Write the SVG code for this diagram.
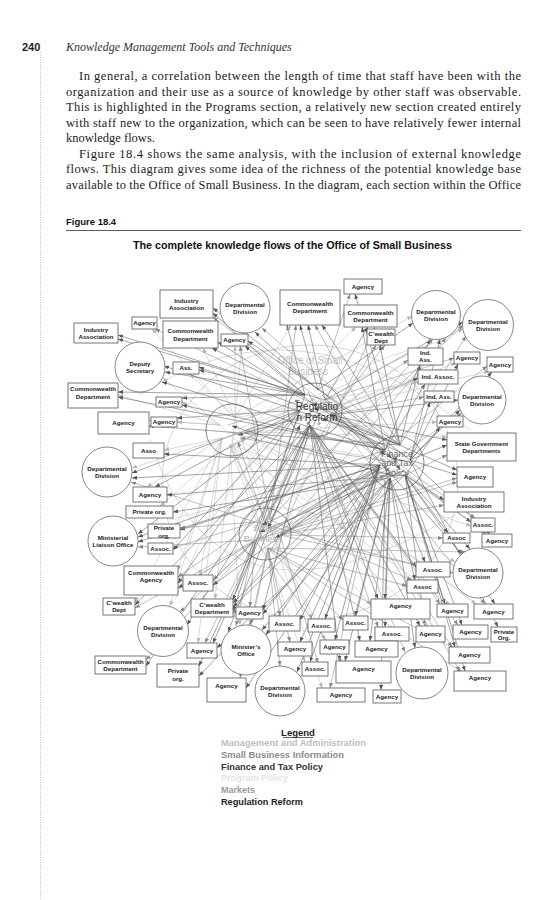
<svg xmlns="http://www.w3.org/2000/svg" width="552" height="900" viewBox="0 0 552 900">
<defs>
<marker id="ad" markerUnits="userSpaceOnUse" markerWidth="5" markerHeight="4" refX="5" refY="2" orient="auto"><path d="M0,0 L5,2 L0,4 z" fill="#555"/></marker>
<marker id="am" markerUnits="userSpaceOnUse" markerWidth="5" markerHeight="4" refX="5" refY="2" orient="auto"><path d="M0,0 L5,2 L0,4 z" fill="#888"/></marker>
<marker id="al" markerUnits="userSpaceOnUse" markerWidth="5" markerHeight="4" refX="5" refY="2" orient="auto"><path d="M0,0 L5,2 L0,4 z" fill="#b5b5b5"/></marker>
</defs>
<style>
.body{font-family:"Liberation Serif",serif;font-size:12.5px;fill:#222}
.hdr{font-family:"Liberation Serif",serif;font-style:italic;font-size:12px;fill:#333}
.sans{font-family:"Liberation Sans",Arial,sans-serif;font-weight:bold}
.nt{font-family:"Liberation Sans",Arial,sans-serif;font-weight:bold;font-size:6.2px;fill:#222;text-anchor:middle}
.bx{fill:#fff;stroke:#555;stroke-width:0.8}
.ci{fill:#fff;stroke:#555;stroke-width:0.7}
.hub{fill:none;stroke:#555;stroke-width:0.7}
.d{stroke:#5a5a5a;stroke-width:0.55;marker-end:url(#ad)}
.m{stroke:#8a8a8a;stroke-width:0.55;marker-end:url(#am)}
.l{stroke:#bcbcbc;stroke-width:0.55;marker-end:url(#al)}
.ht{font-family:"Liberation Sans",Arial,sans-serif;text-anchor:middle}
.lg{font-family:"Liberation Sans",Arial,sans-serif;font-weight:bold;font-size:9.5px}
</style>
<rect width="552" height="900" fill="#fff"/>
<line x1="40.5" y1="52" x2="40.5" y2="900" stroke="#aaa" stroke-width="0.8" stroke-dasharray="1,1.5"/>
<text class="sans" x="22" y="51" font-size="11" fill="#222">240</text>
<text class="hdr" x="66" y="51">Knowledge Management Tools and Techniques</text>
<text class="body" x="79" y="80" textLength="442" lengthAdjust="spacing">In general, a correlation between the length of time that staff have been with the</text>
<text class="body" x="66" y="95.5" textLength="455" lengthAdjust="spacing">organization and their use as a source of knowledge by other staff was observable.</text>
<text class="body" x="66" y="111" textLength="455" lengthAdjust="spacing">This is highlighted in the Programs section, a relatively new section created entirely</text>
<text class="body" x="66" y="126.5" textLength="455" lengthAdjust="spacing">with staff new to the organization, which can be seen to have relatively fewer internal</text>
<text class="body" x="66" y="142">knowledge flows.</text>
<text class="body" x="79" y="157.5" textLength="442" lengthAdjust="spacing">Figure 18.4 shows the same analysis, with the inclusion of external knowledge</text>
<text class="body" x="66" y="173" textLength="455" lengthAdjust="spacing">flows. This diagram gives some idea of the richness of the potential knowledge base</text>
<text class="body" x="66" y="188.5" textLength="455" lengthAdjust="spacing">available to the Office of Small Business. In the diagram, each section within the Office</text>
<text class="sans" x="66" y="225" font-size="9.5" fill="#111">Figure 18.4</text>
<line x1="66" y1="230.5" x2="521" y2="230.5" stroke="#333" stroke-width="0.8"/>
<text class="sans" x="133" y="249" font-size="10.5" fill="#111" textLength="319" lengthAdjust="spacingAndGlyphs">The complete knowledge flows of the Office of Small Business</text>

<g id="office-boundary">
<ellipse cx="310" cy="482" rx="148" ry="137" fill="none" stroke="#cfcfcf" stroke-width="0.9"/>
<text class="ht" x="310" y="364" font-size="10" fill="#c4c4c4">Office of Small</text>
<text class="ht" x="308" y="375" font-size="10" fill="#c4c4c4">Business</text>
</g>

<g id="connectors" fill="none">
<path d="M150,440 Q220,655 455,515" stroke="#c8c8c8" stroke-width="0.7"/>
<path d="M140,395 Q300,290 470,430" stroke="#c8c8c8" stroke-width="0.7"/>
<path d="M170,520 Q320,470 470,600" stroke="#d0d0d0" stroke-width="0.7"/>
<path d="M175,600 Q260,380 430,345" stroke="#d0d0d0" stroke-width="0.7"/>
<line class="d" x1="305" y1="395" x2="213" y2="313"/><line class="m" x1="385" y1="450" x2="213" y2="317"/>
<line class="d" x1="318" y1="390" x2="255" y2="332"/><line class="m" x1="400" y1="445" x2="262" y2="328"/><line class="l" x1="235" y1="418" x2="243" y2="333"/>
<line class="d" x1="305" y1="395" x2="287" y2="325"/><line class="d" x1="318" y1="390" x2="300" y2="325"/><line class="m" x1="385" y1="450" x2="315" y2="325"/><line class="d" x1="400" y1="445" x2="322" y2="325"/><line class="l" x1="235" y1="418" x2="291" y2="325"/><line class="m" x1="270" y1="520" x2="296" y2="325"/><line class="d" x1="325" y1="400" x2="308" y2="325"/>
<line class="d" x1="400" y1="445" x2="355" y2="294"/><line class="m" x1="318" y1="390" x2="350" y2="294"/>
<line class="d" x1="385" y1="450" x2="362" y2="327"/><line class="d" x1="325" y1="400" x2="368" y2="327"/><line class="m" x1="280" y1="535" x2="375" y2="327"/><line class="l" x1="245" y1="432" x2="356" y2="327"/>
<line class="d" x1="400" y1="445" x2="380" y2="345"/><line class="m" x1="330" y1="415" x2="385" y2="345"/><line class="m" x1="270" y1="520" x2="376" y2="345"/>
<line class="d" x1="385" y1="450" x2="430" y2="339"/><line class="d" x1="410" y1="460" x2="440" y2="339"/><line class="d" x1="318" y1="390" x2="413" y2="323"/><line class="l" x1="235" y1="418" x2="412" y2="316"/><line class="m" x1="280" y1="535" x2="446" y2="338"/>
<line class="d" x1="325" y1="400" x2="463" y2="322"/><line class="m" x1="400" y1="445" x2="466" y2="336"/><line class="l" x1="245" y1="432" x2="463" y2="329"/>
<line class="d" x1="400" y1="445" x2="420" y2="365"/><line class="m" x1="330" y1="415" x2="408" y2="360"/>
<line class="d" x1="410" y1="460" x2="458" y2="364"/><line class="m" x1="325" y1="400" x2="454" y2="358"/>
<line class="d" x1="410" y1="460" x2="492" y2="372"/><line class="m" x1="280" y1="535" x2="487" y2="366"/>
<line class="d" x1="385" y1="450" x2="425" y2="384"/><line class="d" x1="330" y1="415" x2="418" y2="378"/><line class="l" x1="245" y1="432" x2="418" y2="382"/>
<line class="d" x1="410" y1="460" x2="430" y2="402"/><line class="m" x1="330" y1="415" x2="424" y2="397"/>
<line class="d" x1="410" y1="460" x2="460" y2="410"/><line class="d" x1="330" y1="415" x2="458" y2="400"/><line class="m" x1="280" y1="535" x2="462" y2="413"/>
<line class="d" x1="405" y1="475" x2="440" y2="427"/><line class="l" x1="245" y1="432" x2="437" y2="422"/>
<line class="d" x1="410" y1="460" x2="447" y2="445"/><line class="d" x1="330" y1="415" x2="447" y2="440"/><line class="m" x1="280" y1="535" x2="447" y2="455"/><line class="l" x1="245" y1="432" x2="447" y2="437"/>
<line class="d" x1="410" y1="460" x2="457" y2="475"/><line class="m" x1="280" y1="535" x2="457" y2="482"/><line class="d" x1="330" y1="415" x2="457" y2="470"/>
<line class="d" x1="405" y1="475" x2="444" y2="500"/><line class="m" x1="280" y1="535" x2="444" y2="505"/>
<line class="d" x1="405" y1="475" x2="471" y2="522"/><line class="m" x1="330" y1="415" x2="475" y2="518"/>
<line class="d" x1="405" y1="475" x2="448" y2="533"/><line class="m" x1="280" y1="535" x2="443" y2="538"/>
<line class="d" x1="410" y1="460" x2="490" y2="534"/><line class="m" x1="330" y1="415" x2="486" y2="534"/>
<line class="d" x1="405" y1="475" x2="470" y2="549"/><line class="d" x1="325" y1="400" x2="462" y2="554"/><line class="l" x1="245" y1="432" x2="455" y2="562"/><line class="m" x1="280" y1="535" x2="453" y2="573"/>
<line class="d" x1="390" y1="478" x2="425" y2="562"/><line class="d" x1="310" y1="425" x2="416" y2="567"/>
<line class="d" x1="390" y1="478" x2="415" y2="580"/><line class="m" x1="268" y1="548" x2="407" y2="586"/>
<line class="d" x1="390" y1="478" x2="385" y2="599"/><line class="d" x1="310" y1="425" x2="378" y2="599"/><line class="l" x1="230" y1="445" x2="371" y2="605"/>
<line class="d" x1="405" y1="475" x2="445" y2="604"/><line class="m" x1="310" y1="425" x2="440" y2="604"/>
<line class="d" x1="405" y1="475" x2="495" y2="604"/><line class="m" x1="330" y1="415" x2="485" y2="604"/>
<line class="d" x1="380" y1="465" x2="325" y2="619"/><line class="l" x1="230" y1="445" x2="312" y2="619"/>
<line class="d" x1="390" y1="478" x2="355" y2="616"/><line class="m" x1="268" y1="548" x2="343" y2="620"/>
<line class="d" x1="390" y1="478" x2="385" y2="627"/><line class="m" x1="310" y1="425" x2="378" y2="627"/>
<line class="d" x1="405" y1="475" x2="425" y2="626"/><line class="d" x1="310" y1="425" x2="420" y2="626"/>
<line class="d" x1="405" y1="475" x2="462" y2="625"/><line class="m" x1="310" y1="425" x2="458" y2="625"/>
<line class="d" x1="410" y1="460" x2="498" y2="627"/>
<line class="d" x1="380" y1="465" x2="335" y2="640"/><line class="l" x1="230" y1="445" x2="325" y2="640"/>
<line class="d" x1="390" y1="478" x2="370" y2="641"/><line class="d" x1="310" y1="425" x2="360" y2="641"/>
<line class="d" x1="405" y1="475" x2="455" y2="647"/><line class="m" x1="310" y1="425" x2="452" y2="647"/>
<line class="d" x1="380" y1="465" x2="310" y2="662"/><line class="l" x1="230" y1="445" x2="305" y2="662"/>
<line class="d" x1="390" y1="478" x2="345" y2="661"/><line class="d" x1="310" y1="425" x2="340" y2="661"/>
<line class="d" x1="390" y1="478" x2="415" y2="648"/><line class="m" x1="310" y1="425" x2="405" y2="652"/>
<line class="d" x1="405" y1="475" x2="465" y2="671"/><line class="m" x1="310" y1="425" x2="460" y2="671"/>
<line class="m" x1="380" y1="465" x2="330" y2="688"/>
<line class="d" x1="385" y1="480" x2="381" y2="690"/>
<line class="m" x1="268" y1="548" x2="280" y2="666"/><line class="d" x1="380" y1="465" x2="297" y2="672"/>
<line class="d" x1="390" y1="478" x2="246" y2="688"/><line class="m" x1="268" y1="548" x2="240" y2="678"/>
<line class="d" x1="310" y1="425" x2="199" y2="666"/>
<line class="m" x1="255" y1="540" x2="236" y2="626"/><line class="m" x1="268" y1="548" x2="250" y2="625"/><line class="d" x1="310" y1="425" x2="228" y2="632"/><line class="l" x1="230" y1="445" x2="240" y2="625"/><line class="d" x1="380" y1="465" x2="266" y2="635"/><line class="d" x1="390" y1="478" x2="262" y2="630"/>
<line class="m" x1="268" y1="548" x2="290" y2="642"/><line class="d" x1="380" y1="465" x2="300" y2="642"/>
<line class="m" x1="255" y1="540" x2="205" y2="643"/><line class="l" x1="222" y1="438" x2="198" y2="643"/><line class="d" x1="310" y1="425" x2="213" y2="643"/>
<line class="m" x1="255" y1="540" x2="146" y2="660"/>
<line class="m" x1="255" y1="540" x2="180" y2="612"/><line class="l" x1="222" y1="438" x2="170" y2="606"/>
<line class="m" x1="268" y1="548" x2="280" y2="616"/><line class="d" x1="380" y1="465" x2="300" y2="620"/>
<line class="m" x1="255" y1="540" x2="250" y2="607"/><line class="d" x1="310" y1="425" x2="263" y2="610"/><line class="d" x1="380" y1="465" x2="263" y2="614"/>
<line class="d" x1="385" y1="450" x2="233" y2="603"/><line class="d" x1="380" y1="465" x2="233" y2="607"/><line class="d" x1="305" y1="395" x2="233" y2="611"/><line class="d" x1="300" y1="410" x2="233" y2="600"/><line class="m" x1="280" y1="535" x2="233" y2="614"/><line class="l" x1="235" y1="418" x2="215" y2="599"/>
<line class="l" x1="222" y1="438" x2="135" y2="602"/><line class="m" x1="255" y1="540" x2="135" y2="608"/>
<line class="m" x1="255" y1="540" x2="213" y2="580"/><line class="l" x1="222" y1="438" x2="200" y2="575"/>
<line class="l" x1="222" y1="438" x2="178" y2="570"/><line class="m" x1="255" y1="522" x2="178" y2="577"/><line class="d" x1="300" y1="410" x2="178" y2="583"/><line class="d" x1="380" y1="465" x2="178" y2="588"/>
<line class="m" x1="255" y1="522" x2="173" y2="548"/>
<line class="d" x1="380" y1="465" x2="180" y2="530"/><line class="m" x1="255" y1="522" x2="180" y2="528"/>
<line class="d" x1="385" y1="450" x2="138" y2="537"/><line class="d" x1="380" y1="465" x2="138" y2="542"/><line class="d" x1="300" y1="410" x2="138" y2="534"/><line class="m" x1="255" y1="540" x2="138" y2="547"/>
<line class="l" x1="230" y1="445" x2="160" y2="506"/>
<line class="l" x1="222" y1="438" x2="147" y2="487"/><line class="d" x1="300" y1="410" x2="155" y2="487"/>
<line class="l" x1="222" y1="438" x2="132" y2="468"/><line class="d" x1="300" y1="410" x2="132" y2="473"/><line class="d" x1="380" y1="465" x2="132" y2="478"/><line class="m" x1="255" y1="522" x2="131" y2="482"/>
<line class="l" x1="222" y1="438" x2="164" y2="450"/>
<line class="l" x1="220" y1="425" x2="149" y2="420"/>
<line class="l" x1="220" y1="425" x2="177" y2="422"/><line class="d" x1="300" y1="410" x2="177" y2="418"/>
<line class="l" x1="220" y1="425" x2="182" y2="402"/><line class="d" x1="305" y1="395" x2="182" y2="398"/>
<line class="l" x1="220" y1="425" x2="118" y2="395"/><line class="d" x1="305" y1="395" x2="118" y2="392"/>
<line class="l" x1="220" y1="425" x2="163" y2="378"/><line class="d" x1="305" y1="395" x2="165" y2="372"/><line class="d" x1="385" y1="450" x2="162" y2="382"/>
<line class="d" x1="305" y1="395" x2="199" y2="370"/><line class="l" x1="235" y1="418" x2="190" y2="374"/>
<line class="d" x1="305" y1="395" x2="118" y2="335"/>
<line class="l" x1="235" y1="418" x2="152" y2="329"/>
<line class="l" x1="235" y1="418" x2="203" y2="348"/><line class="d" x1="305" y1="395" x2="212" y2="348"/>
<line class="l" x1="235" y1="418" x2="235" y2="346"/><line class="d" x1="305" y1="395" x2="245" y2="346"/><line class="m" x1="270" y1="520" x2="240" y2="346"/>
<line class="m" x1="255" y1="522" x2="463" y2="325"/><line class="m" x1="270" y1="520" x2="433" y2="339"/><line class="l" x1="230" y1="445" x2="456" y2="363"/><line class="l" x1="222" y1="438" x2="489" y2="371"/>
<line class="m" x1="255" y1="540" x2="457" y2="478"/><line class="l" x1="230" y1="445" x2="471" y2="526"/><line class="m" x1="268" y1="548" x2="466" y2="552"/><line class="l" x1="245" y1="432" x2="476" y2="604"/>
<line class="d" x1="385" y1="450" x2="118" y2="397"/><line class="d" x1="400" y1="445" x2="149" y2="426"/><line class="d" x1="380" y1="465" x2="164" y2="454"/><line class="d" x1="405" y1="475" x2="167" y2="495"/><line class="d" x1="390" y1="478" x2="173" y2="512"/>
<line class="d" x1="385" y1="450" x2="182" y2="405"/><line class="d" x1="400" y1="445" x2="199" y2="367"/><line class="d" x1="400" y1="445" x2="164" y2="366"/><line class="d" x1="410" y1="460" x2="213" y2="308"/><line class="d" x1="325" y1="400" x2="118" y2="339"/>
<line class="m" x1="400" y1="445" x2="155" y2="329"/><line class="d" x1="385" y1="450" x2="218" y2="342"/><line class="d" x1="400" y1="445" x2="248" y2="341"/>
<line class="d" x1="310" y1="425" x2="135" y2="605"/><line class="d" x1="310" y1="425" x2="146" y2="666"/><line class="d" x1="390" y1="478" x2="199" y2="676"/><line class="d" x1="380" y1="465" x2="213" y2="585"/><line class="d" x1="300" y1="410" x2="173" y2="550"/><line class="d" x1="310" y1="425" x2="187" y2="625"/><line class="d" x1="405" y1="475" x2="217" y2="648"/>
<line class="m" x1="280" y1="535" x2="318" y2="663"/><line class="l" x1="235" y1="418" x2="322" y2="688"/><line class="m" x1="270" y1="520" x2="412" y2="580"/><line class="l" x1="220" y1="425" x2="428" y2="626"/><line class="m" x1="255" y1="522" x2="416" y2="565"/><line class="l" x1="235" y1="418" x2="438" y2="378"/>
<line class="m" x1="268" y1="548" x2="455" y2="649"/><line class="m" x1="268" y1="548" x2="462" y2="672"/><line class="l" x1="230" y1="445" x2="450" y2="605"/><line class="m" x1="255" y1="540" x2="342" y2="662"/>
<line class="d" x1="320" y1="405" x2="392" y2="458"/><line class="d" x1="400" y1="452" x2="322" y2="418"/><line class="m" x1="312" y1="398" x2="388" y2="470"/>
<line class="l" x1="240" y1="428" x2="305" y2="405"/><line class="d" x1="310" y1="415" x2="238" y2="435"/><line class="m" x1="228" y1="425" x2="300" y2="400"/>
<line class="m" x1="262" y1="528" x2="310" y2="420"/><line class="d" x1="318" y1="415" x2="268" y2="528"/><line class="d" x1="255" y1="530" x2="300" y2="425"/>
<line class="m" x1="270" y1="530" x2="390" y2="468"/><line class="d" x1="395" y1="470" x2="275" y2="538"/><line class="m" x1="260" y1="540" x2="385" y2="475"/><line class="d" x1="400" y1="460" x2="262" y2="525"/>
<line class="l" x1="235" y1="432" x2="385" y2="460"/><line class="m" x1="392" y1="462" x2="240" y2="438"/>
<line class="l" x1="232" y1="440" x2="260" y2="525"/><line class="m" x1="266" y1="526" x2="238" y2="442"/>
<line class="l" x1="350" y1="528" x2="318" y2="420"/><line class="l" x1="395" y1="470" x2="352" y2="525"/><line class="l" x1="262" y1="532" x2="345" y2="528"/><line class="l" x1="348" y1="530" x2="240" y2="438"/>
<line class="d" x1="308" y1="392" x2="318" y2="412"/><line class="d" x1="330" y1="402" x2="312" y2="405"/><line class="d" x1="388" y1="448" x2="400" y2="470"/><line class="d" x1="410" y1="462" x2="392" y2="458"/>
<line class="d" x1="322" y1="395" x2="385" y2="455"/><line class="d" x1="405" y1="470" x2="260" y2="532"/><line class="m" x1="228" y1="432" x2="392" y2="475"/><line class="d" x1="398" y1="478" x2="232" y2="426"/>
</g>

<g id="regulation-reform">
<circle class="hub" cx="315" cy="410" r="27"/>
<text class="ht" x="317" y="410" font-size="10" fill="#333">Regulatio</text>
<text class="ht" x="317" y="421" font-size="10" fill="#333">n Reform</text>
</g>
<g id="finance-tax">
<circle class="hub" cx="397" cy="463" r="27"/>
<text class="ht" x="397" y="457" font-size="9" fill="#666">Finance</text>
<text class="ht" x="397" y="466" font-size="9" fill="#666">and Tax</text>
<text class="ht" x="397" y="476" font-size="9" fill="#666">Policy</text>
</g>
<g id="section-left">
<circle class="hub" cx="232" cy="430" r="26" stroke="#777"/>
</g>
<g id="small-business">
<circle class="hub" cx="265" cy="534" r="26" stroke="#777"/>
<text class="ht" x="265" y="531" font-size="9.5" fill="#b0b0b0">Small</text>
<text class="ht" x="263" y="542" font-size="9.5" fill="#b0b0b0">Business</text>
</g>

<g id="n1"><rect class="bx" x="160" y="290" width="53" height="28"/><text class="nt" x="186.5" y="302.5">Industry</text><text class="nt" x="186.5" y="309.5">Association</text></g>
<g id="n2"><circle class="ci" cx="245" cy="308" r="25"/><text class="nt" x="245" y="306.5">Departmental</text><text class="nt" x="245" y="313.5">Division</text></g>
<g id="n3"><rect class="bx" x="280" y="290" width="60" height="35"/><text class="nt" x="310" y="306">Commonwealth</text><text class="nt" x="310" y="313">Department</text></g>
<g id="n4"><rect class="bx" x="344" y="279" width="38" height="15"/><text class="nt" x="363" y="288.7">Agency</text></g>
<g id="n5"><rect class="bx" x="344" y="305" width="53" height="22"/><text class="nt" x="370.5" y="314.5">Commonwealth</text><text class="nt" x="370.5" y="321.5">Department</text></g>
<g id="n6"><rect class="bx" x="367" y="329" width="28" height="16"/><text class="nt" x="381" y="335.5">C’wealth</text><text class="nt" x="381" y="342.5">Dept</text></g>
<g id="n7"><circle class="ci" cx="436" cy="315" r="24.5"/><text class="nt" x="436" y="313.5">Departmental</text><text class="nt" x="436" y="320.5">Division</text></g>
<g id="n8"><circle class="ci" cx="488" cy="325" r="25.5"/><text class="nt" x="488" y="323.5">Departmental</text><text class="nt" x="488" y="330.5">Division</text></g>
<g id="n9"><rect class="bx" x="408" y="348" width="35" height="17"/><text class="nt" x="425.5" y="355">Ind.</text><text class="nt" x="425.5" y="362">Ass.</text></g>
<g id="n10"><rect class="bx" x="454" y="352" width="26" height="12"/><text class="nt" x="467" y="360.2">Agency</text></g>
<g id="n11"><rect class="bx" x="487" y="357" width="26" height="15"/><text class="nt" x="500" y="366.7">Agency</text></g>
<g id="n12"><rect class="bx" x="418" y="370" width="40" height="14"/><text class="nt" x="438" y="379.2">Ind. Assoc.</text></g>
<g id="n13"><rect class="bx" x="424" y="391" width="30" height="11"/><text class="nt" x="439" y="398.7">Ind. Ass.</text></g>
<g id="n14"><circle class="ci" cx="482" cy="400" r="24"/><text class="nt" x="482" y="398.5">Departmental</text><text class="nt" x="482" y="405.5">Division</text></g>
<g id="n15"><rect class="bx" x="437" y="416" width="26" height="11"/><text class="nt" x="450" y="423.7">Agency</text></g>
<g id="n16"><rect class="bx" x="447" y="433" width="69" height="28"/><text class="nt" x="481.5" y="445.5">State Government</text><text class="nt" x="481.5" y="452.5">Departments</text></g>
<g id="n17"><rect class="bx" x="457" y="467" width="36" height="20"/><text class="nt" x="475" y="479.2">Agency</text></g>
<g id="n18"><rect class="bx" x="444" y="492" width="60" height="20"/><text class="nt" x="474" y="500.5">Industry</text><text class="nt" x="474" y="507.5">Association</text></g>
<g id="n19"><rect class="bx" x="471" y="518" width="24" height="14"/><text class="nt" x="483" y="527.2">Assoc.</text></g>
<g id="n20"><rect class="bx" x="443" y="533" width="27" height="10"/><text class="nt" x="456.5" y="540.2" font-size="5.6">Assoc</text></g>
<g id="n21"><rect class="bx" x="482" y="534" width="30" height="13"/><text class="nt" x="497" y="542.7">Agency</text></g>
<g id="n22"><circle class="ci" cx="478" cy="573" r="25"/><text class="nt" x="478" y="571.5">Departmental</text><text class="nt" x="478" y="578.5">Division</text></g>
<g id="n23"><rect class="bx" x="416" y="562" width="34" height="15"/><text class="nt" x="433" y="571.7">Assoc.</text></g>
<g id="n24"><rect class="bx" x="407" y="580" width="31" height="13"/><text class="nt" x="422.5" y="588.7">Assoc</text></g>
<g id="n25"><rect class="bx" x="371" y="599" width="59" height="20"/><text class="nt" x="400.5" y="608">Agency</text></g>
<g id="n26"><rect class="bx" x="437" y="604" width="31" height="13"/><text class="nt" x="452.5" y="612.7">Agency</text></g>
<g id="n27"><rect class="bx" x="474" y="604" width="39" height="15"/><text class="nt" x="493.5" y="613.7">Agency</text></g>
<g id="n28"><rect class="bx" x="308" y="619" width="27" height="13"/><text class="nt" x="321.5" y="627.7">Assoc.</text></g>
<g id="n29"><rect class="bx" x="343" y="616" width="25" height="14"/><text class="nt" x="355.5" y="625.2">Assoc.</text></g>
<g id="n30"><rect class="bx" x="375" y="627" width="34" height="14"/><text class="nt" x="392" y="636.2">Assoc.</text></g>
<g id="n31"><rect class="bx" x="416" y="626" width="29" height="16"/><text class="nt" x="430.5" y="636.2">Agency</text></g>
<g id="n32"><rect class="bx" x="453" y="625" width="35" height="14"/><text class="nt" x="470.5" y="634.2">Agency</text></g>
<g id="n33"><rect class="bx" x="491" y="627" width="26" height="15"/><text class="nt" x="504" y="633.5" font-size="5.4">Private</text><text class="nt" x="504" y="639.8" font-size="5.4">Org.</text></g>
<g id="n34"><rect class="bx" x="320" y="640" width="29" height="14"/><text class="nt" x="334.5" y="649.2">Agency</text></g>
<g id="n35"><rect class="bx" x="355" y="641" width="43" height="16"/><text class="nt" x="376.5" y="651.2">Agency</text></g>
<g id="n36"><rect class="bx" x="449" y="647" width="41" height="16"/><text class="nt" x="469.5" y="657.2">Agency</text></g>
<g id="n37"><rect class="bx" x="302" y="662" width="26" height="14"/><text class="nt" x="315" y="671.2">Assoc.</text></g>
<g id="n38"><rect class="bx" x="336" y="661" width="55" height="22"/><text class="nt" x="363.5" y="670.5">Agency</text></g>
<g id="n39"><circle class="ci" cx="422" cy="673" r="26"/><text class="nt" x="422" y="671.5">Departmental</text><text class="nt" x="422" y="678.5">Division</text></g>
<g id="n40"><rect class="bx" x="454" y="671" width="52" height="20"/><text class="nt" x="480" y="679.5">Agency</text></g>
<g id="n41"><rect class="bx" x="317" y="688" width="48" height="14"/><text class="nt" x="341" y="697.2">Agency</text></g>
<g id="n42"><rect class="bx" x="373" y="690" width="28" height="13"/><text class="nt" x="387" y="698.7">Agency</text></g>
<g id="n43"><circle class="ci" cx="280" cy="691" r="25"/><text class="nt" x="280" y="689.5">Departmental</text><text class="nt" x="280" y="696.5">Division</text></g>
<g id="n44"><rect class="bx" x="207" y="678" width="39" height="24"/><text class="nt" x="226.5" y="687.5">Agency</text></g>
<g id="n45"><rect class="bx" x="157" y="664" width="42" height="23"/><text class="nt" x="178" y="673">Private</text><text class="nt" x="178" y="681">org.</text></g>
<g id="n46"><circle class="ci" cx="246" cy="650" r="25"/><text class="nt" x="246" y="648.5">Minister’s</text><text class="nt" x="246" y="655.5">Office</text></g>
<g id="n47"><rect class="bx" x="278" y="642" width="34" height="14"/><text class="nt" x="295" y="651.2">Agency</text></g>
<g id="n48"><rect class="bx" x="187" y="643" width="30" height="15"/><text class="nt" x="202" y="652.7">Agency</text></g>
<g id="n49"><rect class="bx" x="95" y="656" width="51" height="18"/><text class="nt" x="120.5" y="663.5">Commonwealth</text><text class="nt" x="120.5" y="670.5">Department</text></g>
<g id="n50"><circle class="ci" cx="163" cy="631" r="25.5"/><text class="nt" x="163" y="629.5">Departmental</text><text class="nt" x="163" y="636.5">Division</text></g>
<g id="n51"><rect class="bx" x="269" y="616" width="31" height="15"/><text class="nt" x="284.5" y="625.7">Assoc.</text></g>
<g id="n52"><rect class="bx" x="236" y="607" width="27" height="12"/><text class="nt" x="249.5" y="615.2">Agency</text></g>
<g id="n53"><rect class="bx" x="191" y="599" width="42" height="18"/><text class="nt" x="212" y="606.5">C’wealth</text><text class="nt" x="212" y="613.5">Department</text></g>
<g id="n54"><rect class="bx" x="103" y="598" width="32" height="17"/><text class="nt" x="119" y="605">C’wealth</text><text class="nt" x="119" y="612">Dept</text></g>
<g id="n55"><rect class="bx" x="183" y="575" width="30" height="16"/><text class="nt" x="198" y="585.2">Assoc.</text></g>
<g id="n56"><rect class="bx" x="124" y="566" width="54" height="29"/><text class="nt" x="151" y="574.5">Commonwealth</text><text class="nt" x="151" y="582">Agency</text></g>
<g id="n57"><rect class="bx" x="148" y="543" width="25" height="11"/><text class="nt" x="160.5" y="550.7">Assoc.</text></g>
<g id="n58"><rect class="bx" x="148" y="524" width="32" height="14"/><text class="nt" x="164" y="530">Private</text><text class="nt" x="164" y="537.5">org.</text></g>
<g id="n59"><circle class="ci" cx="113" cy="541" r="25"/><text class="nt" x="113" y="539.5">Ministerial</text><text class="nt" x="113" y="546.5">Liaison Office</text></g>
<g id="n60"><rect class="bx" x="126" y="506" width="47" height="12"/><text class="nt" x="149.5" y="514.2">Private org.</text></g>
<g id="n61"><rect class="bx" x="133" y="487" width="34" height="15"/><text class="nt" x="150" y="496.7">Agency</text></g>
<g id="n62"><circle class="ci" cx="107" cy="472" r="25"/><text class="nt" x="107" y="470.5">Departmental</text><text class="nt" x="107" y="477.5">Division</text></g>
<g id="n63"><rect class="bx" x="133" y="443" width="31" height="15"/><text class="nt" x="148.5" y="452.7">Asso</text></g>
<g id="n64"><rect class="bx" x="98" y="412" width="51" height="22"/><text class="nt" x="123.5" y="425.2">Agency</text></g>
<g id="n65"><rect class="bx" x="151" y="417" width="26" height="10"/><text class="nt" x="164" y="424.2">Agency</text></g>
<g id="n66"><rect class="bx" x="156" y="397" width="26" height="10"/><text class="nt" x="169" y="404.2">Agency</text></g>
<g id="n67"><rect class="bx" x="68" y="383" width="50" height="25"/><text class="nt" x="93" y="391">Commonwealth</text><text class="nt" x="93" y="398.5">Department</text></g>
<g id="n68"><circle class="ci" cx="140" cy="367" r="25"/><text class="nt" x="140" y="365.5">Deputy</text><text class="nt" x="140" y="372.5">Secretary</text></g>
<g id="n69"><rect class="bx" x="173" y="362" width="26" height="12"/><text class="nt" x="186" y="370.2">Ass.</text></g>
<g id="n70"><rect class="bx" x="74" y="323" width="44" height="20"/><text class="nt" x="96" y="331.5">Industry</text><text class="nt" x="96" y="338.5">Association</text></g>
<g id="n71"><rect class="bx" x="132" y="317" width="25" height="12"/><text class="nt" x="144.5" y="325.2">Agency</text></g>
<g id="n72"><rect class="bx" x="163" y="321" width="55" height="27"/><text class="nt" x="190.5" y="333">Commonwealth</text><text class="nt" x="190.5" y="340.5">Department</text></g>
<g id="n73"><rect class="bx" x="221" y="334" width="27" height="12"/><text class="nt" x="234.5" y="342.2">Agency</text></g>

<g id="legend">
<text class="lg" x="298" y="735.5" text-anchor="middle" fill="#222">Legend</text>
<line x1="283" y1="737.5" x2="313" y2="737.5" stroke="#222" stroke-width="0.7"/>
<text class="lg" x="221" y="745.5" fill="#bdbdbd" textLength="145" lengthAdjust="spacingAndGlyphs">Management and Administration</text>
<text class="lg" x="221" y="757.5" fill="#8c8c8c" textLength="123" lengthAdjust="spacingAndGlyphs">Small Business Information</text>
<text class="lg" x="221" y="769.5" fill="#333" textLength="102" lengthAdjust="spacingAndGlyphs">Finance and Tax Policy</text>
<text class="lg" x="221" y="780.5" fill="#e4e4e4" textLength="67" lengthAdjust="spacingAndGlyphs">Program Policy</text>
<text class="lg" x="221" y="792.5" fill="#999" textLength="34" lengthAdjust="spacingAndGlyphs">Markets</text>
<text class="lg" x="221" y="804.5" fill="#222" textLength="82" lengthAdjust="spacingAndGlyphs">Regulation Reform</text>
</g>
</svg>
